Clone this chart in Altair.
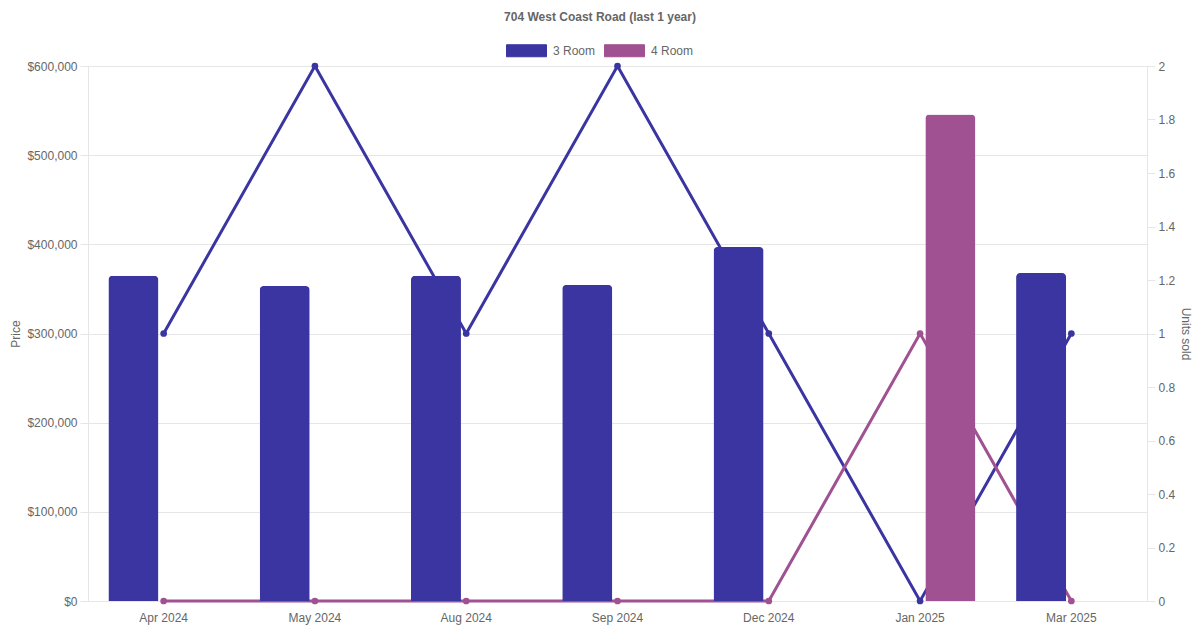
import altair as alt
import pandas as pd

months = ["Apr 2024", "May 2024", "Aug 2024", "Sep 2024", "Dec 2024", "Jan 2025", "Mar 2025"]
room_types = ["3 Room", "4 Room"]
price_3room = [364800, 353300, 364800, 354500, 397000, None, 367800]
price_4room = [None, None, None, None, None, 545500, None]
units_3room = [1, 2, 1, 2, 1, 0, 1]
units_4room = [0, 0, 0, 0, 0, 1, 0]
series_colors = ["#3a35a1", "#a05192"]
price_ticks = [0, 100000, 200000, 300000, 400000, 500000, 600000]
unit_ticks = [0, 0.2, 0.4, 0.6, 0.8, 1, 1.2, 1.4, 1.6, 1.8, 2]

rows = []
for i, m in enumerate(months):
    rows.append({"month": m, "type": "3 Room", "price": price_3room[i], "units": units_3room[i]})
    rows.append({"month": m, "type": "4 Room", "price": price_4room[i], "units": units_4room[i]})
df = pd.DataFrame(rows)
bars_df = df.dropna(subset=["price"])

GRID = "#e6e6e6"
TXT = "#666666"
FONT = "Liberation Sans"

color_enc = alt.Color(
    "type:N",
    scale=alt.Scale(domain=room_types, range=series_colors),
    legend=alt.Legend(
        title=None,
        orient="none",
        direction="horizontal",
        legendX=418,
        legendY=-36,
        symbolType="M-1,-0.3H1V0.3H-1Z",
        symbolSize=1600,
        symbolStrokeWidth=1,
        labelFontSize=12,
        labelColor=TXT,
        labelFont=FONT,
        labelOffset=6,
        columnPadding=6,
        padding=0,
    ),
)

x_enc = alt.X(
    "month:N",
    sort=months,
    scale=alt.Scale(paddingInner=0.2, paddingOuter=0.1),
    axis=alt.Axis(
        title=None, labelAngle=0, ticks=False, grid=False, domainColor=GRID,
        labelPadding=11, labelFontSize=12, labelColor=TXT, labelFont=FONT,
    ),
)

lines = alt.Chart(df).mark_line(
    strokeWidth=3,
    point=alt.OverlayMarkDef(filled=True, size=45, opacity=1),
).encode(
    x=x_enc,
    y=alt.Y(
        "units:Q",
        scale=alt.Scale(domain=[0, 2], nice=False),
        axis=alt.Axis(
            orient="right", title="Units sold", values=unit_ticks, format="~g",
            grid=False, domainColor=GRID, tickColor=GRID, tickSize=8,
            labelPadding=3, labelFontSize=12, labelColor=TXT, labelFont=FONT,
            titleFontSize=12, titleColor=TXT, titleFont=FONT, titleFontWeight="normal",
            titleAngle=90, titleX=38, titleY=267.5, titleBaseline="middle",
        ),
    ),
    color=color_enc,
)

bars = alt.Chart(bars_df).mark_bar(
    cornerRadiusTopLeft=4, cornerRadiusTopRight=4,
).encode(
    x=x_enc,
    xOffset=alt.XOffset(
        "type:N",
        scale=alt.Scale(domain=room_types, paddingInner=0.1736, paddingOuter=0.0868),
    ),
    y=alt.Y(
        "price:Q",
        scale=alt.Scale(domain=[0, 600000], nice=False),
        axis=alt.Axis(
            orient="left", title="Price", values=price_ticks, format="$,.0f",
            grid=True, gridColor=GRID, domainColor=GRID, tickColor=GRID, tickSize=8,
            labelPadding=3, labelFontSize=12, labelColor=TXT, labelFont=FONT,
            titleFontSize=12, titleColor=TXT, titleFont=FONT, titleFontWeight="normal",
            titleAngle=-90, titleX=-73, titleY=267.5, titleBaseline="middle",
        ),
    ),
    color=color_enc,
)

chart = alt.layer(lines, bars).resolve_scale(y="independent").properties(
    width=1059,
    height=535,
    autosize=alt.AutoSizeParams(type="none"),
    padding={"left": 80, "top": 58, "right": 45, "bottom": 30},
    title=alt.TitleParams(
        "704 West Coast Road (last 1 year)",
        anchor="middle", frame="group", dx=-17.5, offset=6,
        fontSize=12, fontWeight="bold", color=TXT, font=FONT,
    ),
).configure_view(stroke=None).configure(background="white")

chart.save("out.html", embed_options={"renderer": "svg", "actions": False})
